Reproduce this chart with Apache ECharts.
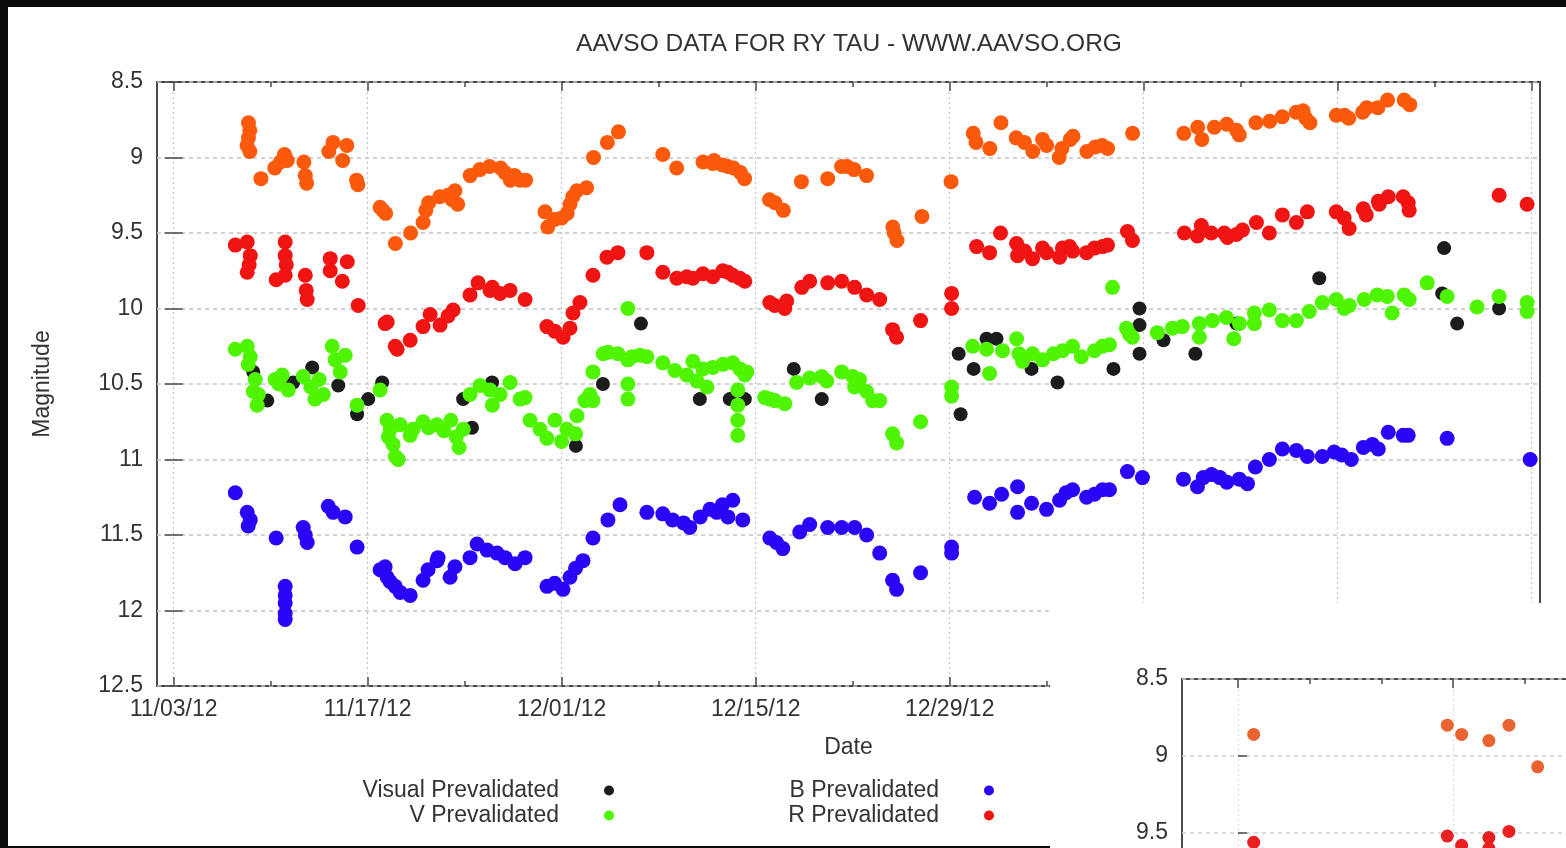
<!DOCTYPE html>
<html>
<head>
<meta charset="utf-8">
<title>AAVSO data for RY Tau</title>
<script src="https://cdn.jsdelivr.net/npm/echarts@6/dist/echarts.min.js"></script>
<style>
  html, body { margin: 0; padding: 0; background: #fff; }
  #chart { width: 1566px; height: 848px; }
</style>
</head>
<body>
<div id="chart"></div>
<script>
// Time is counted in days from 2012-11-03 (day 0); values are magnitudes.
const majorTickDays = [0, 14, 28, 42, 56, 70, 84, 98];
const minorTickDays = [7, 21, 35, 49, 63, 77, 91];
const labelledDays = [0, 14, 28, 42, 56];
const dateLabels = ['11/03/12', '11/17/12', '12/01/12', '12/15/12', '12/29/12'];

// Visual estimates
const visualObs = [
  [5.75,10.42],[6.76,10.61],[8.63,10.49],[10.0,10.39],[11.88,10.51],[13.24,10.70],[14.04,10.60],[15.05,10.49],
  [16.21,11.0],[20.89,10.60],[21.53,10.79],[22.98,10.49],[29.03,10.91],[30.98,10.50],[33.72,10.10],[37.97,10.60],
  [40.13,10.60],[41.22,10.60],[44.75,10.40],[46.77,10.60],[56.65,10.30],[56.79,10.70],[57.73,10.40],[58.66,10.20],
  [59.38,10.20],[61.91,10.40],[63.78,10.49],[67.82,10.40],[69.70,10.30],[69.70,10.0],[69.70,10.11],[71.43,10.21],
  [73.73,10.30],[76.69,10.10],[82.67,9.80],[91.68,9.60],[91.54,9.90],[92.62,10.10],[95.65,10.0]
];

// V band
const vBand = [
  [4.45,10.27],[5.31,10.25],[5.53,10.32],[5.38,10.37],[5.89,10.47],[6.11,10.57],[6.03,10.64],[5.75,10.55],
  [7.33,10.47],[7.84,10.44],[8.27,10.54],[7.6,10.50],[9.35,10.45],[9.9,10.52],[10.5,10.47],[10.80,10.57],[10.2,10.60],
  [11.44,10.25],[11.66,10.34],[12.38,10.31],[12.02,10.42],[13.24,10.64],[14.90,10.54],
  [15.4,10.74],[15.63,10.80],[15.84,10.90],[16.0,10.98],[16.35,10.77],[17.07,10.84],[15.5,10.85],[16.2,11.0],
  [17.28,10.80],[18.0,10.75],[18.4,10.79],[19.0,10.77],[19.5,10.81],[20.0,10.74],[20.4,10.85],[20.9,10.80],[20.6,10.92],
  [21.39,10.57],[22.11,10.51],[22.83,10.54],[23.56,10.57],[24.28,10.49],[25.0,10.60],[25.36,10.59],[23.0,10.64],
  [25.72,10.74],[26.44,10.80],[26.94,10.86],[27.52,10.74],[28.38,10.80],[29.11,10.71],[29.68,10.61],[30.04,10.57],
  [28.0,10.88],[29.0,10.83],[30.26,10.61],[30.26,10.42],
  [31.0,10.30],[31.34,10.29],[32.06,10.30],[32.78,10.34],[33.07,10.32],[32.78,10.50],[32.78,10.60],[33.65,10.31],
  [32.78,10.0],[34.15,10.32],[35.30,10.36],[36.17,10.41],[37.03,10.44],[37.76,10.48],[38.48,10.52],[37.47,10.35],
  [38.19,10.40],[38.91,10.39],[39.63,10.37],[40.35,10.36],[40.86,10.40],[41.22,10.44],[41.36,10.42],
  [40.71,10.54],[40.71,10.64],[40.71,10.74],[40.71,10.84],
  [42.66,10.59],[43.38,10.61],[44.10,10.63],[43.0,10.60],
  [44.96,10.49],[45.9,10.46],[46.77,10.45],[47.13,10.48],[48.21,10.42],[49.0,10.45],[49.14,10.52],[49.5,10.47],
  [50.01,10.55],[50.44,10.61],[50.95,10.61],[51.88,10.83],[52.17,10.89],[53.90,10.75],[56.14,10.52],[56.14,10.58],
  [57.66,10.25],[58.66,10.27],[59.82,10.28],[58.88,10.43],
  [60.83,10.20],[61.0,10.30],[61.26,10.35],[61.98,10.30],[62.7,10.34],[63.5,10.30],[64.14,10.28],[64.87,10.25],
  [65.5,10.32],[66.45,10.28],[67.03,10.25],[67.53,10.24],[67.75,9.86],[68.76,10.13],[69.19,10.19],[68.97,10.17],
  [70.99,10.16],[72.07,10.13],[72.79,10.12],[74.02,10.10],[74.02,10.19],[74.96,10.08],[75.97,10.06],[76.91,10.10],
  [76.5,10.20],[77.99,10.03],[77.99,10.10],[79.07,10.01],[80.01,10.08],[81.02,10.08],[81.95,10.02],[82.89,9.96],
  [83.90,9.94],[84.47,10.0],[84.83,9.98],[85.92,9.94],[86.86,9.91],[87.58,9.92],[87.93,10.03],[88.80,9.91],[89.16,9.94],
  [90.46,9.83],[91.90,9.92],[94.06,9.99],[95.65,9.92],[97.67,9.96],[97.67,10.02]
];

// B band
const bBand = [
  [4.45,11.22],[5.31,11.35],[5.53,11.40],[5.38,11.44],[7.40,11.52],
  [8.05,11.84],[8.05,11.90],[8.05,11.95],[8.05,12.02],[8.05,12.06],
  [9.35,11.45],[9.50,11.50],[9.64,11.55],[11.16,11.31],[11.51,11.35],[12.38,11.38],[13.24,11.58],
  [14.90,11.73],[15.41,11.78],[15.99,11.84],[15.26,11.71],[15.63,11.81],[16.35,11.88],[17.07,11.90],
  [18.0,11.80],[18.36,11.73],[19.01,11.67],[19.08,11.65],[19.95,11.78],[20.3,11.71],
  [21.39,11.65],[21.90,11.56],[22.62,11.60],[23.34,11.62],[23.92,11.65],[24.64,11.69],[25.36,11.65],
  [26.94,11.84],[27.5,11.82],[28.10,11.86],[28.6,11.78],[29.0,11.72],[29.54,11.67],
  [30.26,11.52],[31.34,11.40],[32.21,11.30],
  [34.15,11.35],[35.30,11.36],[36.0,11.40],[36.8,11.42],[37.25,11.45],
  [38.0,11.38],[38.7,11.33],[39.2,11.35],[39.6,11.30],[40.35,11.27],[40.0,11.38],[41.07,11.40],
  [43.02,11.52],[43.5,11.55],[43.96,11.59],[45.18,11.48],[45.90,11.43],
  [47.20,11.45],[48.21,11.45],[49.14,11.45],[50.01,11.50],[50.95,11.62],
  [51.88,11.80],[52.17,11.86],[53.90,11.75],[56.14,11.58],[56.14,11.62],
  [57.80,11.25],[58.88,11.29],[59.75,11.23],[60.90,11.18],[60.90,11.35],[61.91,11.29],[62.99,11.33],
  [63.93,11.27],[64.4,11.22],[64.87,11.20],[65.88,11.25],[66.45,11.23],[67.03,11.20],[67.53,11.20],
  [68.83,11.08],[69.91,11.12],
  [72.87,11.13],[73.88,11.18],[74.3,11.12],[74.9,11.10],[75.5,11.12],[76.0,11.15],[76.9,11.13],[77.49,11.16],
  [78.06,11.05],[79.07,11.0],[80.01,10.93],[81.02,10.94],[81.81,10.98],[82.89,10.98],
  [83.75,10.95],[84.3,10.97],[84.98,11.0],[85.85,10.92],[86.5,10.90],[86.93,10.93],[87.65,10.82],
  [88.73,10.84],[89.09,10.84],[91.90,10.86],[97.89,11.0]
];

// R band
const rBand = [
  [4.45,9.58],[5.31,9.56],[5.53,9.65],[5.45,9.71],[5.31,9.76],[7.40,9.81],
  [8.05,9.56],[8.05,9.65],[8.13,9.71],[8.05,9.78],[9.50,9.78],[9.57,9.88],[9.64,9.94],
  [11.30,9.67],[11.30,9.75],[12.17,9.82],[12.53,9.69],[13.32,9.98],
  [15.26,10.10],[15.41,10.09],[16.13,10.27],[15.99,10.25],[17.07,10.21],
  [18.0,10.12],[18.51,10.04],[19.23,10.11],[20.17,10.01],[19.8,10.05],
  [21.39,9.91],[21.97,9.83],[22.83,9.88],[23.56,9.90],[24.28,9.88],[25.36,9.94],[23.0,9.86],
  [26.94,10.12],[27.5,10.15],[28.10,10.19],[28.6,10.13],[28.82,10.03],[29.32,9.96],
  [30.26,9.78],[31.27,9.66],[32.06,9.63],[34.15,9.63],[35.30,9.76],[36.31,9.80],[37.47,9.80],[37.03,9.79],
  [38.19,9.77],[38.91,9.79],[39.63,9.75],[40.0,9.76],[40.35,9.78],[40.86,9.80],[41.22,9.82],
  [43.02,9.96],[43.38,9.98],[44.10,10.0],[44.24,9.95],
  [45.33,9.86],[45.90,9.82],[47.20,9.83],[48.21,9.82],[49.14,9.86],[50.01,9.91],[50.95,9.94],
  [51.88,10.14],[52.17,10.19],[53.90,10.08],[56.14,9.90],[56.14,10.0],
  [57.94,9.59],[58.88,9.63],[59.67,9.50],
  [60.83,9.57],[60.9,9.65],[61.41,9.62],[61.98,9.67],[62.70,9.60],[62.99,9.63],
  [63.93,9.66],[64.14,9.60],[64.65,9.59],[64.87,9.62],[65.88,9.63],[66.45,9.60],[67.03,9.59],[67.39,9.58],
  [68.83,9.49],[69.19,9.55],
  [72.94,9.50],[73.88,9.52],[74.16,9.45],[74.88,9.50],[75.82,9.50],[76.04,9.53],[76.69,9.51],[77.13,9.48],
  [78.14,9.43],[79.07,9.50],[80.01,9.38],[81.02,9.43],[81.81,9.36],
  [83.90,9.36],[84.47,9.40],[84.83,9.47],[85.85,9.34],[86.06,9.38],[86.93,9.29],[87.0,9.31],
  [87.65,9.26],[88.73,9.26],[89.09,9.30],[89.16,9.35],[95.65,9.25],[97.67,9.31]
];

// I band (orange)
const iBand = [
  [5.4,8.77],[5.5,8.82],[5.4,8.87],[5.3,8.92],[5.5,8.96],[6.3,9.14],
  [7.3,9.07],[7.7,9.03],[8.0,8.98],[8.2,9.02],[9.4,9.03],[9.5,9.12],[9.6,9.17],
  [11.2,8.96],[11.5,8.90],[12.2,9.02],[12.5,8.92],[13.2,9.15],[13.3,9.18],
  [14.9,9.33],[15.1,9.35],[15.3,9.37],[16.0,9.57],[17.1,9.50],
  [18.0,9.43],[18.2,9.35],[18.4,9.30],[19.2,9.26],[19.8,9.25],[20.1,9.28],[20.3,9.22],[20.5,9.31],
  [21.4,9.12],[22.1,9.08],[22.8,9.06],[23.6,9.07],[23.9,9.10],[24.3,9.15],[24.6,9.12],[25.0,9.15],[25.4,9.15],
  [26.8,9.36],[27.0,9.46],[27.5,9.41],[28.0,9.40],[28.4,9.37],[28.6,9.31],[28.8,9.26],[29.1,9.22],[29.8,9.20],
  [30.3,9.00],[31.3,8.90],[32.1,8.83],[35.3,8.98],[36.3,9.07],
  [38.2,9.03],[38.9,9.04],[39.0,9.02],[39.6,9.05],[40.0,9.06],[40.4,9.07],[40.9,9.10],[41.2,9.14],
  [43.0,9.28],[43.4,9.30],[44.0,9.35],[45.3,9.16],[47.2,9.14],[48.2,9.06],[48.6,9.06],[49.1,9.08],[50.0,9.12],
  [51.9,9.46],[52.0,9.50],[52.2,9.55],[54.0,9.39],[56.1,9.16],
  [57.7,8.84],[57.9,8.90],[58.9,8.94],[59.7,8.77],
  [60.8,8.87],[61.4,8.90],[62.0,8.96],[62.7,8.88],[63.0,8.92],
  [63.9,9.00],[64.1,8.94],[64.7,8.88],[64.9,8.86],[65.9,8.96],[66.5,8.93],[67.0,8.92],[67.4,8.94],[69.2,8.84],
  [72.9,8.84],[73.9,8.80],[74.2,8.88],[75.1,8.80],[76.0,8.78],[76.7,8.82],[76.9,8.85],
  [78.1,8.77],[79.1,8.76],[80.0,8.73],[81.0,8.70],[81.5,8.69],[81.7,8.74],[82.0,8.77],
  [83.9,8.72],[84.5,8.72],[84.8,8.74],[85.8,8.70],[86.1,8.67],[86.9,8.67],[87.6,8.62],[88.8,8.62],[89.2,8.65]
];

// Second, partly shown panel (lower right)
const panelMajorTicks = [0, 15, 30, 45];
const panelMinorTicks = [5, 10, 20, 25, 35, 40];
const panelI = [[1.1,8.86],[14.6,8.80],[15.6,8.86],[17.5,8.90],[18.9,8.80],[20.9,9.07]];
const panelR = [[1.1,9.56],[14.6,9.52],[15.6,9.58],[17.5,9.53],[18.9,9.49],[17.5,9.60]];

const FONT = '"Liberation Sans", Arial, Helvetica, sans-serif';
const INK = '#333333';
const FRAME = '#4a4a4a';
const GRIDC = '#c4c4c4';
const COLORS = { visual: '#1c1c1c', v: '#4ff500', b: '#2a06f8', r: '#f01412', i: '#fb5a0c' };

const chart = echarts.init(document.getElementById('chart'), null, { renderer: 'canvas' });

function tickAxis(gridIndex, position, min, max, values, len, z) {
  return {
    type: 'value', gridIndex, position, min, max, z,
    axisLine: { show: false },
    axisTick: { show: true, inside: true, length: len, customValues: values,
                lineStyle: { color: FRAME, width: 1.5 } },
    axisLabel: { show: false },
    splitLine: { show: false }
  };
}

function dots(name, data, color, size, xi, yi, z) {
  return {
    type: 'scatter', name, data, xAxisIndex: xi, yAxisIndex: yi,
    symbol: 'circle', symbolSize: size, z,
    itemStyle: { color, opacity: 1 },
    emphasis: { disabled: true },
    silent: true
  };
}

const X_MIN = -1.2, X_MAX = 98.6;
const P_MIN = -3.9, P_MAX = 43.8;

const option = {
  animation: false,
  backgroundColor: '#ffffff',
  textStyle: { fontFamily: FONT },
  title: {
    text: 'AAVSO DATA FOR RY TAU - WWW.AAVSO.ORG',
    left: 849, top: 32, textAlign: 'center', padding: 0,
    textStyle: { fontFamily: FONT, fontSize: 24.5, fontWeight: 'normal', color: INK }
  },
  grid: [
    { left: 157, top: 82, width: 1383, height: 604, show: true, borderColor: FRAME, borderWidth: 2,
      backgroundColor: 'transparent', containLabel: false, outerBoundsMode: 'none' },
    { left: 1182, top: 679, width: 684, height: 616, show: true, borderColor: FRAME, borderWidth: 2,
      backgroundColor: '#ffffff', containLabel: false, outerBoundsMode: 'none', z: 20 }
  ],
  xAxis: [
    {
      type: 'value', gridIndex: 0, position: 'bottom', min: X_MIN, max: X_MAX,
      axisLine: { show: false },
      axisTick: { show: true, inside: true, length: 9, customValues: majorTickDays,
                  lineStyle: { color: FRAME, width: 1.5 } },
      axisLabel: {
        customValues: labelledDays, margin: 12, fontSize: 23, color: INK, fontFamily: FONT,
        formatter: v => dateLabels[labelledDays.indexOf(Math.round(v))] || ''
      },
      splitLine: { show: true, lineStyle: { color: GRIDC, width: 1.2, type: [2, 3] } },
      name: 'Date', nameLocation: 'middle', nameGap: 50,
      nameTextStyle: { fontSize: 23, color: INK, fontFamily: FONT }
    },
    tickAxis(0, 'bottom', X_MIN, X_MAX, minorTickDays, 5, 0),
    tickAxis(0, 'top', X_MIN, X_MAX, majorTickDays, 9, 0),
    tickAxis(0, 'top', X_MIN, X_MAX, minorTickDays, 5, 0),
    {
      type: 'value', gridIndex: 1, position: 'top', min: P_MIN, max: P_MAX, z: 20,
      axisLine: { show: false },
      axisTick: { show: true, inside: true, length: 9, customValues: panelMajorTicks,
                  lineStyle: { color: FRAME, width: 1.5 } },
      axisLabel: { show: false },
      splitLine: { show: true, lineStyle: { color: '#d4dbe6', width: 1.2, type: [2, 3] } }
    },
    tickAxis(1, 'top', P_MIN, P_MAX, panelMinorTicks, 5, 20)
  ],
  yAxis: [
    {
      type: 'value', gridIndex: 0, position: 'left', min: 8.5, max: 12.5, interval: 0.5, inverse: true,
      axisLine: { show: false },
      axisTick: { show: true, inside: true, length: 9, lineStyle: { color: FRAME, width: 1.5 } },
      axisLabel: { margin: 14, fontSize: 23, color: INK, fontFamily: FONT },
      splitLine: { show: true, lineStyle: { color: GRIDC, width: 1.5, type: [4, 4] } },
      name: 'Magnitude', nameLocation: 'middle', nameGap: 103, nameRotate: 90,
      nameTextStyle: { fontSize: 23, color: INK, fontFamily: FONT }
    },
    {
      type: 'value', gridIndex: 0, position: 'right', min: 8.5, max: 12.5, interval: 0.5, inverse: true,
      axisLine: { show: false },
      axisTick: { show: true, inside: true, length: 9, lineStyle: { color: FRAME, width: 1.5 } },
      axisLabel: { show: false },
      splitLine: { show: false }
    },
    {
      type: 'value', gridIndex: 1, position: 'left', min: 8.5, max: 12.5, interval: 0.5, inverse: true, z: 20,
      axisLine: { show: false },
      axisTick: { show: true, inside: true, length: 9, lineStyle: { color: FRAME, width: 1.5 } },
      axisLabel: { margin: 14, fontSize: 23, color: INK, fontFamily: FONT },
      splitLine: { show: true, lineStyle: { color: '#d0d0d0', width: 1.5, type: [4, 4] } }
    }
  ],
  legend: [
    {
      data: ['Visual Prevalidated', 'V Prevalidated'], orient: 'vertical', align: 'right',
      right: 952, top: 779, padding: 0, itemGap: 2, itemWidth: 10, itemHeight: 12, icon: 'circle',
      selectedMode: false,
      textStyle: { fontSize: 23, color: INK, fontFamily: FONT, padding: [0, 40, 0, 0] }
    },
    {
      data: ['B Prevalidated', 'R Prevalidated'], orient: 'vertical', align: 'right',
      right: 572, top: 779, padding: 0, itemGap: 2, itemWidth: 10, itemHeight: 12, icon: 'circle',
      selectedMode: false,
      textStyle: { fontSize: 23, color: INK, fontFamily: FONT, padding: [0, 40, 0, 0] }
    }
  ],
  series: [
    dots('Visual Prevalidated', visualObs, COLORS.visual, 14, 0, 0, 2),
    dots('V Prevalidated', vBand, COLORS.v, 15, 0, 0, 2),
    dots('B Prevalidated', bBand, COLORS.b, 15, 0, 0, 2),
    dots('R Prevalidated', rBand, COLORS.r, 15, 0, 0, 2),
    dots('I Prevalidated', iBand, COLORS.i, 15, 0, 0, 2),
    dots('I (panel 2)', panelI, '#e8632f', 13, 4, 2, 21),
    dots('R (panel 2)', panelR, '#e82020', 13, 4, 2, 21)
  ],
  graphic: [
    { type: 'rect', z: 10, silent: true, shape: { x: 1050, y: 603, width: 516, height: 245 }, style: { fill: '#ffffff' } },
    { type: 'rect', z: 100, silent: true, shape: { x: 0, y: 0, width: 1566, height: 7 }, style: { fill: '#0b0b0b' } },
    { type: 'rect', z: 100, silent: true, shape: { x: 0, y: 0, width: 8, height: 848 }, style: { fill: '#0b0b0b' } },
    { type: 'rect', z: 100, silent: true, shape: { x: 0, y: 846, width: 1050, height: 2 }, style: { fill: '#0b0b0b' } }
  ]
};

chart.setOption(option);
</script>
</body>
</html>
